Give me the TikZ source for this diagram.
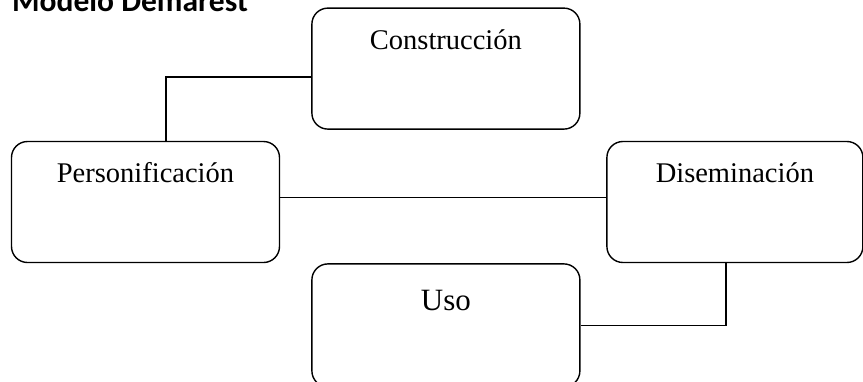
\documentclass[tikz,border=0pt]{standalone}
\usepackage{fontspec}
\setmainfont{Liberation Serif}
\newfontfamily\titlefont{Carlito}
\usetikzlibrary{positioning}
\tikzset{
    block/.style={
        draw=black,
        rectangle,
        rounded corners=16pt,
        line width=1.4pt,
        inner sep=0pt,
        minimum width=268pt,
        text height=41pt,
        text depth=80pt,
        font=\fontsize{28.5}{33}\selectfont
    },
    link/.style={
        line width=1.4pt,
        color=black
    }
}
\begin{document}
\begin{tikzpicture}[x=1pt,y=-1pt]
    \useasboundingbox (0,0) rectangle (863,381);
    \clip (0,0) rectangle (863,381);
    % Title, cut at the top edge
    \node[anchor=base west, inner sep=0pt, font=\titlefont\bfseries\fontsize{31.5}{36}\selectfont] (title) at (12,11) {Modelo Demarest};
    
    % Blocks
    \node[block] (person) at (145.5,202) {Personificación};
    \node[block, above right=11pt and 31pt of person] (constr) {Construcción};
    \node[block, minimum width=256pt, right=326pt of person] (dissem) {Diseminación};
    \node[block, below right=0pt and 31pt of person, text height=47pt, text depth=76pt, font=\fontsize{31}{36}\selectfont] (uso) {Uso};
    
    % Links
    \draw[link] ([xshift=20.5pt]person.north) |- ([yshift=-8.5pt]constr.west);
    \draw[link] ([yshift=4.5pt]person.east) -- ([yshift=4.5pt]person.east -| dissem.west);
    \draw[link] ([xshift=-9pt]dissem.south) |- (uso.east);
\end{tikzpicture}
\end{document}
